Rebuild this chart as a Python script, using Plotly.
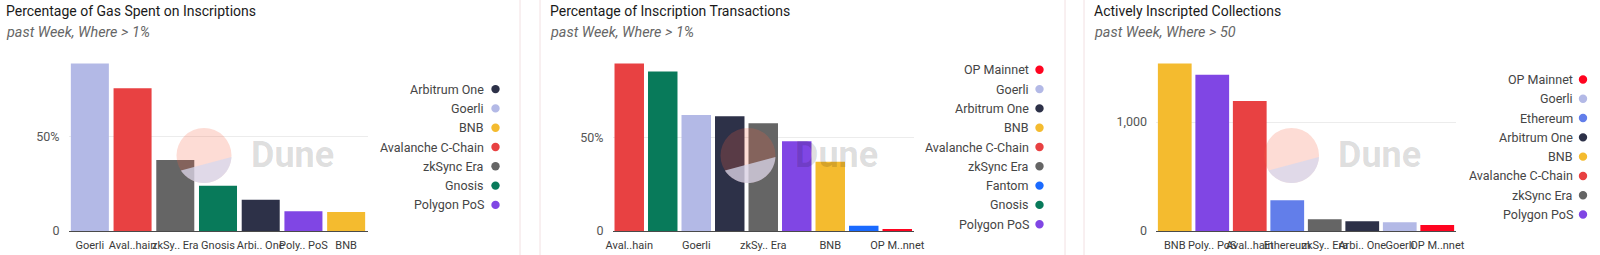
import math
import plotly.graph_objects as go

W, H = 1600, 255

# ---------------- data ----------------
gas_chains = ["Goerli", "Avalanche C-Chain", "zkSync Era", "Gnosis", "Arbitrum One", "Polygon PoS", "BNB"]
gas_ticks = ["Goerli", "Aval..hain", "zkSy.. Era", "Gnosis", "Arbi.. One", "Poly.. PoS", "BNB"]
gas_pct = [88.4, 75.3, 37.4, 23.8, 16.5, 10.4, 10.0]
gas_legend = ["Arbitrum One", "Goerli", "BNB", "Avalanche C-Chain", "zkSync Era", "Gnosis", "Polygon PoS"]

tx_chains = ["Avalanche C-Chain", "Gnosis", "Goerli", "Arbitrum One", "zkSync Era", "Polygon PoS", "BNB", "Fantom", "OP Mainnet"]
tx_ticks = ["Aval..hain", "Gnosis", "Goerli", "Arbi.. One", "zkSy.. Era", "Poly.. PoS", "BNB", "Fantom", "OP M..nnet"]
tx_pct = [89.9, 85.6, 62.2, 61.6, 57.8, 48.2, 37.1, 2.8, 0.6]
tx_legend = ["OP Mainnet", "Goerli", "Arbitrum One", "BNB", "Avalanche C-Chain", "zkSync Era", "Fantom", "Gnosis", "Polygon PoS"]

coll_chains = ["BNB", "Polygon PoS", "Avalanche C-Chain", "Ethereum", "zkSync Era", "Arbitrum One", "Goerli", "OP Mainnet"]
coll_ticks = ["BNB", "Poly.. PoS", "Aval..hain", "Ethereum", "zkSy.. Era", "Arbi.. One", "Goerli", "OP M..nnet"]
coll_count = [1538, 1434, 1193, 282, 107, 89, 81, 55]
coll_legend = ["OP Mainnet", "Goerli", "Ethereum", "Arbitrum One", "BNB", "Avalanche C-Chain", "zkSync Era", "Polygon PoS"]

titles = ["Percentage of Gas Spent on Inscriptions", "Percentage of Inscription Transactions", "Actively Inscripted Collections"]
subtitles = ["past Week, Where > 1%", "past Week, Where > 1%", "past Week, Where > 50"]

chain_colors = {
    "Goerli": "#b3b9e6",
    "Avalanche C-Chain": "#e84142",
    "zkSync Era": "#656565",
    "Gnosis": "#087a5a",
    "Arbitrum One": "#2d3148",
    "Polygon PoS": "#8046e4",
    "BNB": "#f4bb2f",
    "Fantom": "#1a6aff",
    "OP Mainnet": "#ff0420",
    "Ethereum": "#627eea",
}

FONT = "Roboto"

def px(x):
    return x / W

def py(y):
    return 1 - y / H

panels = [
    dict(chains=gas_chains, ticks=gas_ticks, vals=gas_pct, legend=gas_legend,
         dom=(68.5, 367.5), width=0.89, title_x=4, leg_text=486, leg_mark=495.5,
         tickvals=[0, 50], ticktext=["0", "50%"], every=1),
    dict(chains=tx_chains, ticks=tx_ticks, vals=tx_pct, legend=tx_legend,
         dom=(612.5, 914), width=0.88, title_x=548, leg_text=1031, leg_mark=1039.5,
         tickvals=[0, 50], ticktext=["0", "50%"], every=2),
    dict(chains=coll_chains, ticks=coll_ticks, vals=coll_count, legend=coll_legend,
         dom=(1156, 1456), width=0.9, title_x=1092, leg_text=1575, leg_mark=1583,
         tickvals=[0, 1000], ticktext=["0", "1,000"], every=1),
]

Y_BOTTOM, Y_TOP = 231, 55

fig = go.Figure()
annotations = []
shapes = []

for i, p in enumerate(panels):
    n = i + 1
    xa = "x" if n == 1 else f"x{n}"
    ya = "y" if n == 1 else f"y{n}"
    fig.add_trace(go.Bar(
        x=p["chains"], y=p["vals"], xaxis=xa, yaxis=ya,
        marker=dict(color=[chain_colors[c] for c in p["chains"]], line=dict(width=0)),
        width=p["width"], showlegend=False, hoverinfo="x+y",
    ))
    xkey = "xaxis" if n == 1 else f"xaxis{n}"
    ykey = "yaxis" if n == 1 else f"yaxis{n}"
    ev = p["every"]
    fig.update_layout({
        xkey: dict(
            domain=[px(p["dom"][0]), px(p["dom"][1])], anchor=ya,
            type="category", categoryorder="array", categoryarray=p["chains"],
            tickmode="array", tickvals=p["chains"][::ev], ticktext=p["ticks"][::ev],
            tickangle=0, showgrid=False, zeroline=False, automargin=False,
            showline=True, linecolor="#4a4a4a", linewidth=1,
            ticks="", ticklabelstandoff=4,
            tickfont=dict(family=FONT, size=11, color="#3a3a3a"),
            range=[-0.5, len(p["chains"]) - 0.5], fixedrange=True,
        ),
        ykey: dict(
            domain=[py(Y_BOTTOM), py(Y_TOP)], anchor=xa,
            range=[0, max(p["vals"]) * 1.05], automargin=False,
            tickmode="array", tickvals=p["tickvals"], ticktext=p["ticktext"],
            showgrid=True, gridcolor="#ececec", gridwidth=1, zeroline=False,
            showline=False, ticks="", ticklabelstandoff=8,
            tickfont=dict(family=FONT, size=12.5, color="#555555"),
            fixedrange=True,
        ),
    })

    # title + subtitle
    annotations.append(dict(
        x=px(p["title_x"]), y=py(11), xref="paper", yref="paper",
        xanchor="left", yanchor="middle", showarrow=False,
        text=titles[i], font=dict(family=FONT, size=14, color="#1a1a1a"),
    ))
    annotations.append(dict(
        x=px(p["title_x"]), y=py(33), xref="paper", yref="paper",
        xanchor="left", yanchor="middle", showarrow=False,
        text=f"<i>{subtitles[i]}</i>", font=dict(family=FONT, size=14.4, color="#666666"),
    ))

    # custom legend (text with marker on the right)
    m = len(p["legend"])
    for k, name in enumerate(p["legend"]):
        yy = 147 + (k - (m - 1) / 2) * 19.3
        annotations.append(dict(
            x=px(p["leg_text"]), y=py(yy), xref="paper", yref="paper",
            xanchor="right", yanchor="middle", showarrow=False,
            text=name, font=dict(family=FONT, size=12.5, color="#454545"),
        ))
        shapes.append(dict(
            type="circle", xref="paper", yref="paper",
            xsizemode="pixel", ysizemode="pixel",
            xanchor=px(p["leg_mark"]), yanchor=py(yy),
            x0=-4.2, x1=4.2, y0=-4.2, y1=4.2,
            fillcolor=chain_colors[name], line=dict(width=0),
        ))

    # Dune watermark
    cx = p["dom"][0] + 135.5
    cy = 155.5
    r = 27.5
    shapes.append(dict(
        type="circle", xref="paper", yref="paper",
        xsizemode="pixel", ysizemode="pixel",
        xanchor=px(cx), yanchor=py(cy),
        x0=-r, x1=r, y0=-r, y1=r,
        fillcolor="rgba(244,96,62,0.22)", line=dict(width=0), layer="above",
    ))
    a0, a1 = 213, 357
    pts = []
    steps = 40
    for s in range(steps + 1):
        a = math.radians(a0 + (a1 - a0) * s / steps)
        pts.append((r * math.cos(a), r * math.sin(a)))
    path = "M " + " L ".join(f"{x:.2f},{y:.2f}" for x, y in pts) + " Z"
    shapes.append(dict(
        type="path", xref="paper", yref="paper",
        xsizemode="pixel", ysizemode="pixel",
        xanchor=px(cx), yanchor=py(cy), path=path,
        fillcolor="rgba(214,216,238,1)", line=dict(width=0), layer="above", opacity=0.75,
    ))
    annotations.append(dict(
        x=px(p["dom"][0] + 180), y=py(155), xref="paper", yref="paper",
        xanchor="left", yanchor="middle", showarrow=False,
        text="<b>Dune</b>", font=dict(family=FONT, size=36, color="rgba(0,0,0,0.14)"),
    ))

# panel separators
for xs in [520, 540, 1065, 1084]:
    shapes.append(dict(
        type="line", xref="paper", yref="paper",
        x0=px(xs), x1=px(xs), y0=0, y1=1,
        line=dict(color="#f2e0e2", width=1),
    ))

fig.update_layout(
    width=W, height=H,
    margin=dict(l=0, r=0, t=0, b=0, autoexpand=False),
    paper_bgcolor="white", plot_bgcolor="white",
    showlegend=False,
    annotations=annotations, shapes=shapes,
    font=dict(family=FONT),
)

fig.write_html("out.html", config={"displayModeBar": False})
